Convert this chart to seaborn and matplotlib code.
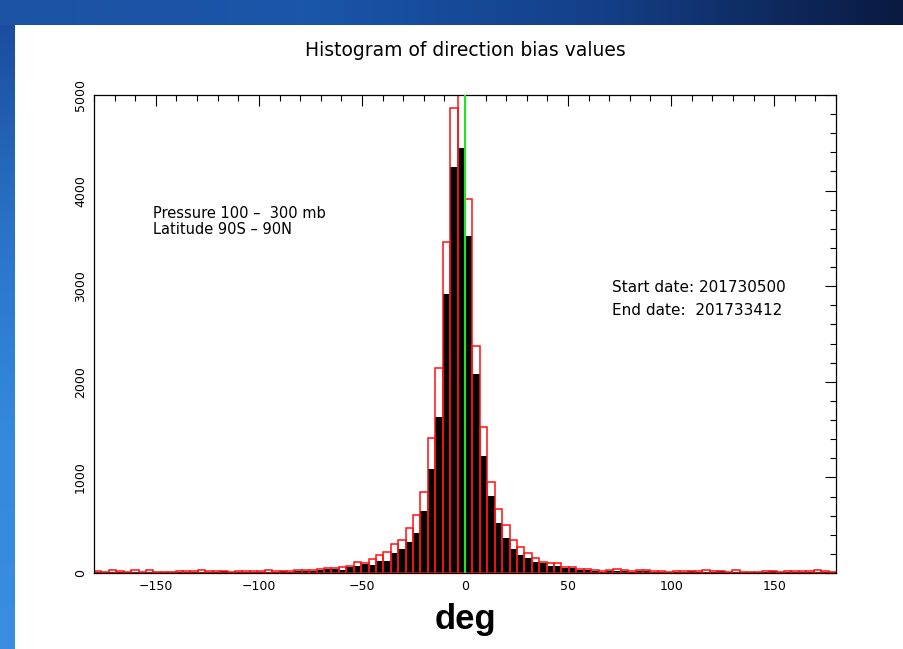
import numpy as np
import pandas as pd
import matplotlib
matplotlib.use("Agg")
import matplotlib.pyplot as plt
import seaborn as sns
from matplotlib.ticker import MultipleLocator

# 100 bins of 3.6 degrees spanning -180 .. 180
bin_start = -180.0
bin_end = 180.0
bin_width = 3.6
n_bins = 100

# counts for all observations (red outlines)
all_counts = [
    18, 15, 28, 20, 15, 28, 15, 28, 15, 12, 15, 18, 20, 20, 28, 22, 18, 20, 15, 18,
    20, 20, 20, 28, 20, 22, 18, 31, 31, 31, 42, 49, 49, 59, 70, 112, 101, 143, 187, 218,
    300, 349, 474, 603, 851, 1416, 2141, 3459, 4861, 5350, 3912, 2371, 1531, 948, 671, 504, 347, 275, 206, 162,
    120, 101, 101, 59, 59, 45, 42, 28, 21, 31, 42, 31, 24, 31, 31, 20, 18, 15, 18, 20,
    22, 20, 28, 18, 20, 15, 28, 15, 15, 15, 18, 24, 15, 18, 20, 20, 22, 28, 18, 15,
]

# counts for observations passing checks (black bars)
used_counts = [
    8, 8, 12, 14, 8, 14, 8, 12, 8, 6, 8, 10, 12, 14, 14, 14, 10, 16, 10, 10,
    12, 14, 14, 14, 12, 16, 12, 21, 21, 21, 35, 42, 42, 35, 66, 70, 94, 80, 122, 122,
    209, 251, 328, 418, 648, 1088, 1632, 2918, 4250, 4449, 3525, 2085, 1227, 802, 525, 370, 251, 188, 160, 113,
    100, 73, 73, 49, 56, 35, 35, 21, 14, 21, 21, 21, 14, 21, 21, 12, 10, 10, 12, 14,
    16, 12, 14, 10, 16, 8, 8, 8, 8, 8, 12, 16, 8, 14, 14, 14, 14, 14, 10, 8,
]

x_ticks = [-150, -100, -50, 0, 50, 100, 150]
y_ticks = [0, 1000, 2000, 3000, 4000, 5000]

title = "Histogram of direction bias values"
info_pressure = "Pressure 100 \u2013  300 mb"
info_latitude = "Latitude 90S \u2013 90N"
info_start = "Start date: 201730500"
info_end = "End date:  201733412"

centres = bin_start + bin_width * (np.arange(n_bins) + 0.5)
df = pd.DataFrame({"centre": centres, "all": all_counts, "used": used_counts})

sns.set_style("white")
plt.rcParams["font.family"] = ["DejaVu Sans"]
plt.rcParams["text.color"] = "black"
plt.rcParams["axes.labelcolor"] = "black"
plt.rcParams["xtick.color"] = "black"
plt.rcParams["ytick.color"] = "black"

W, H = 904, 649
fig = plt.figure(figsize=(W / 100, H / 100), dpi=100)
fig.patch.set_facecolor("white")

# blue frame: top band and left strip
top_h = 25 / H
band = fig.add_axes([0, 1 - top_h, 1, top_h], zorder=-5)
grad = np.linspace(0, 1, 256)[None, :]
top_cmap = matplotlib.colors.LinearSegmentedColormap.from_list(
    "topband", ["#1d52a3", "#1a56aa", "#143f88", "#0a1a40"])
band.imshow(grad, aspect="auto", cmap=top_cmap, extent=[0, 1, 0, 1])
band.set_axis_off()

left_w = 15 / W
strip = fig.add_axes([0, 0, left_w, 1 - top_h], zorder=-5)
vgrad = np.linspace(0, 1, 256)[:, None]
left_cmap = matplotlib.colors.LinearSegmentedColormap.from_list(
    "leftstrip", ["#3a8ddf", "#358ade", "#2a74c8", "#1b4d9e"])
strip.imshow(vgrad, aspect="auto", cmap=left_cmap, extent=[0, 1, 0, 1], origin="lower")
strip.set_axis_off()

ax = fig.add_axes([94 / W, 1 - 573 / H, 742 / W, 478 / H])
ax.set_facecolor("white")

hist_kws = dict(data=df, x="centre", binwidth=bin_width, binrange=(bin_start, bin_end),
                stat="count", ax=ax)
sns.histplot(weights="used", color="black", alpha=1.0, linewidth=0, **hist_kws)
sns.histplot(weights="all", fill=False, color="#ff1010", linewidth=1.1, **hist_kws)
ax.axvline(0, color="#1ee61e", linewidth=1.5, zorder=5)

ax.set_xlim(bin_start, bin_end)
ax.set_ylim(0, 5000)
ax.set_xticks(x_ticks)
ax.set_xticklabels([str(t).replace("-", "\u2212") for t in x_ticks])
ax.set_yticks(y_ticks)
ax.set_yticklabels([str(t) for t in y_ticks], rotation=90, va="center")
ax.xaxis.set_minor_locator(MultipleLocator(10))
ax.yaxis.set_minor_locator(MultipleLocator(200))
ax.tick_params(which="both", direction="in", top=True, right=True, colors="black",
               labelsize=9, width=0.8)
ax.tick_params(which="major", length=8, pad=5)
ax.tick_params(which="minor", length=4)
for s in ax.spines.values():
    s.set_color("black")
    s.set_linewidth(0.9)

ax.set_ylabel("")
ax.set_xlabel("deg", fontsize=25, fontweight="bold", color="black",
              family=["Liberation Sans", "DejaVu Sans"], labelpad=7)

fig.text(465 / W, 1 - 50 / H, title, ha="center", va="center", fontsize=13.5)
fig.text(153 / W, 1 - 214 / H, info_pressure, ha="left", va="center", fontsize=10.5)
fig.text(153 / W, 1 - 229 / H, info_latitude, ha="left", va="center", fontsize=10.5)
fig.text(612 / W, 1 - 287 / H, info_start, ha="left", va="center", fontsize=11)
fig.text(612 / W, 1 - 311 / H, info_end, ha="left", va="center", fontsize=11)

fig.savefig("out.png", dpi=100)
